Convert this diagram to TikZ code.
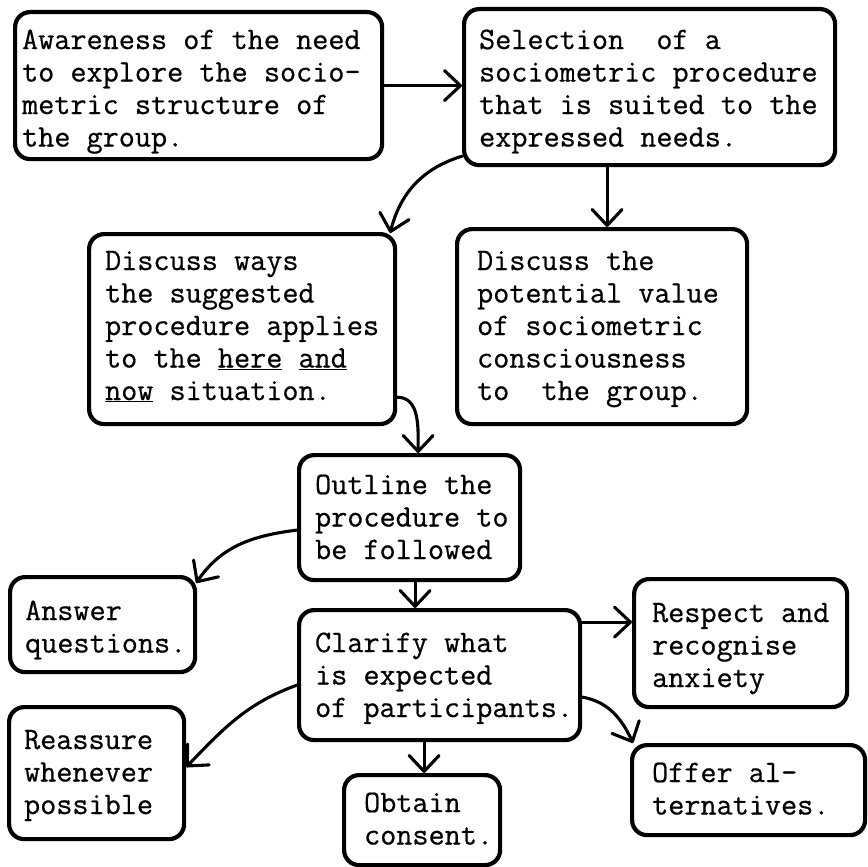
\documentclass[tikz,border=0pt]{standalone}
\usepackage{fontspec}
\setmonofont{Latin Modern Mono}[FakeBold=0.6]
\usetikzlibrary{arrows.meta}
\newcommand{\bx}[5]{\begin{minipage}[c][#2][t]{#1}\raggedright\setlength{\leftskip}{#4}\vspace*{#3}\strut #5\par\end{minipage}}
\tikzset{
  box/.style={draw, line width=4.2pt, rounded corners=15pt, inner sep=0pt, anchor=north west,
    font=\fontsize{31.3}{32.5}\selectfont\ttfamily},
  arr/.style={line width=3.1pt, line cap=round, -{Straight Barb[round,length=16pt,width=30pt]}}
}
\begin{document}
\begin{tikzpicture}[x=1pt,y=-1pt]
\useasboundingbox (0,0) rectangle (867,867);
\node[box] (A) at (13,10) {\bx{367pt}{147pt}{14.2pt}{7pt}{Awareness of the need\\to explore the socio-\\metric structure of\\the group.}};
\node[box] (B) at (462,7) {\bx{371pt}{156pt}{17.2pt}{15pt}{Selection~~of a\\sociometric procedure\\that is suited to the\\expressed needs.}};
\node[box] (C) at (87,232) {\bx{306pt}{190pt}{13.2pt}{16pt}{Discuss ways\\the suggested\\procedure applies\\to the \underline{here} \underline{and}\\\underline{now} situation.}};
\node[box] (D) at (455,227) {\bx{290pt}{195pt}{18.2pt}{20pt}{Discuss the\\potential value\\of sociometric\\consciousness\\to~~the group.}};
\node[box] (E) at (297,453) {\bx{221pt}{125pt}{16.2pt}{16pt}{Outline the\\procedure to\\be followed}};
\node[box] (F) at (8,575) {\bx{185pt}{95pt}{20.2pt}{15pt}{Answer\\questions.}};
\node[box] (G) at (297,608) {\bx{281pt}{130pt}{19.2pt}{16pt}{Clarify what\\is expected\\of participants.}};
\node[box] (H) at (632,577) {\bx{213pt}{128pt}{20.2pt}{18pt}{Respect and\\recognise\\anxiety}};
\node[box] (I) at (630,743) {\bx{233pt}{90pt}{14.2pt}{20pt}{Offer al-\\ternatives.}};
\node[box] (J) at (7,705) {\bx{175pt}{132pt}{19.2pt}{15pt}{Reassure\\whenever\\possible}};
\node[box] (K) at (342,773) {\bx{156pt}{90pt}{14.2pt}{20pt}{Obtain\\consent.}};
% connectors
\draw[arr] (A.east) -- (A.east -| B.west);
\coordinate (b1) at ([yshift=11pt]B.south west);
\coordinate (c0) at ([xshift=-7pt,yshift=-1pt]C.north east);
\draw[arr] (b1) to[out=197,in=76] (c0);
\coordinate (d1) at ([xshift=5pt]D.north);
\draw[arr] (d1 |- B.south) -- (d1);
\coordinate (c1) at ([yshift=29pt]C.south east);
\coordinate (e1) at ([xshift=8.5pt]E.north);
\draw[arr] (c1) to[out=0,in=90] (e1);
\coordinate (e2) at ([yshift=-12.5pt]E.west);
\coordinate (f1) at ([xshift=-1pt,yshift=-8pt]F.north east);
\draw[arr] (e2) to[out=187,in=56] (f1);
\coordinate (e3) at ([xshift=5.5pt]E.south);
\draw[arr] (e3) -- (e3 |- G.north);
\coordinate (g1) at ([yshift=53pt]G.east);
\draw[arr] (g1) -- (g1 -| H.west);
\coordinate (g2) at ([yshift=-22pt]G.east);
\coordinate (i1) at ([xshift=3pt]I.north west);
\draw[arr] (g2) to[out=-10,in=115] (i1);
\coordinate (g3) at ([yshift=-10pt]G.west);
\coordinate (j1) at ([yshift=6pt]J.east);
\draw[arr] (g3) to[out=200,in=46] (j1);
\coordinate (k1) at ([xshift=2pt]K.north);
\draw[arr] (k1 |- G.south) -- (k1);
\end{tikzpicture}
\end{document}
